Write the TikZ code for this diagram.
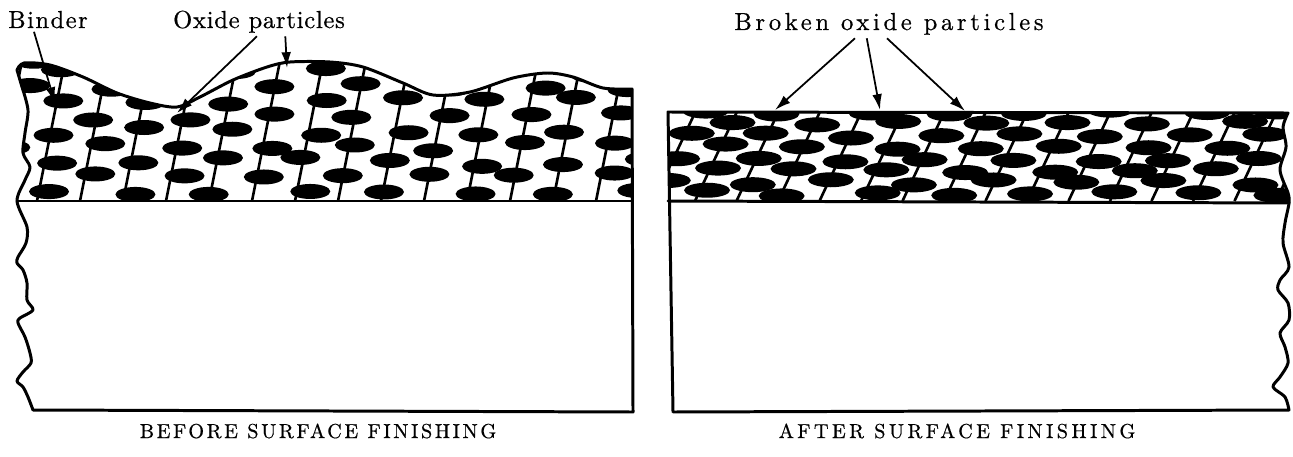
\documentclass[tikz,border=0pt]{standalone}
\usepackage{fontspec}
\usetikzlibrary{arrows.meta}

% tracked Latin Modern for the lettering
\newfontfamily\trackbinder[LetterSpace=6, FakeBold=0.6]{lmroman10-regular.otf}
\newfontfamily\trackoxide[LetterSpace=3, FakeBold=0.6]{lmroman10-regular.otf}
\newfontfamily\trackbroken[LetterSpace=15, FakeBold=0.6]{lmroman10-regular.otf}
\newfontfamily\trackbefore[LetterSpace=13, FakeBold=0.6]{lmroman10-regular.otf}
\newfontfamily\trackafter[LetterSpace=17, FakeBold=0.6]{lmroman10-regular.otf}

\tikzset{
  outline/.style={line width=1.7pt, line join=round, line cap=round},
  hatch/.style={line width=1.5pt},
  grain/.style={fill=black},
  pointer/.style={-{Latex[length=9pt,width=5.5pt]}, line width=1pt},
  tag/.style={inner sep=1pt, outer sep=1pt, font=#1\fontsize{14}{16}\selectfont},
  caption/.style={inner sep=0pt, font=#1\fontsize{11.5}{13}\selectfont},
}

\begin{document}
\begin{tikzpicture}[x=0.02cm, y=-0.02cm]
\useasboundingbox (0,0) rectangle (1293,456);
\pgfmathsetseed{42}

% left specimen, wavy coating on top of the base
\path[save path=\panelL] plot[smooth] coordinates {(17,70) (24,63) (50,65) (83,77) (117,93) (150,103) (177,107) (200,97) (233,80) (267,67) (290,62) (330,62) (363,67) (403,83) (433,95) (470,92) (513,78) (547,73) (573,77) (603,88) (632,89)}
  -- (633,412) -- (33,410)
  -- plot[smooth, tension=0.5] coordinates {(33,410) (28,397) (23,387) (17,381) (23,372) (31,363) (30,353) (25,337) (18,323) (20,318) (33,310) (27,300) (27,283) (23,270) (17,263) (18,257) (26,243) (27,227) (17,201) (25,180) (30,167) (23,153) (25,133) (28,110) (22,87)} -- cycle;

% right specimen, coating ground flat
\path[save path=\panelR] (668,112) -- (1288,113)
  -- plot[smooth, tension=0.5] coordinates {(1288,113) (1283,127) (1286,147) (1280,170) (1288,193) (1289,203) (1285,223) (1283,243) (1289,267) (1280,280) (1278,290) (1288,303) (1289,320) (1280,333) (1285,347) (1288,363) (1280,377) (1273,387) (1285,397) (1289,410)}
  -- (673,412) -- cycle;

\begin{scope}
  \clip (0,0) rectangle (1293,201);
  \clip[use path=\panelL];
  \foreach \i in {-1,...,14} {
    \draw[hatch] ({37+43*\i},201) -- ++(30,-150);
    \foreach \j in {0,...,4} {
      \pgfmathsetmacro\ey{192-30*\j-15*mod(\i+2,2)+5*rand}
      \pgfmathsetmacro\ex{37+43*\i+0.2*(201-\ey)+5+9*rand}
      \fill[grain] (\ex,\ey) ellipse [x radius=20, y radius=7.5];
    }
  }
\end{scope}

\begin{scope}
  \clip (0,0) rectangle (1293,201);
  \clip[use path=\panelR];
  \foreach \i in {-1,...,14} {
    \draw[hatch] ({695+41.5*\i},201) -- ++(47,-100);
    \foreach \j in {0,...,4} {
      \pgfmathsetmacro\ey{193-23*\j-11*mod(\i+2,2)+3*rand}
      \pgfmathsetmacro\ex{695+41.5*\i+0.47*(201-\ey)+6+9*rand}
      \fill[grain] (\ex,\ey) ellipse [x radius=23, y radius=7.5];
    }
  }
\end{scope}

\draw[outline, use path=\panelL];
\draw[outline] (17,201) -- (632,201);
\draw[outline, use path=\panelR];
\draw[outline] (668,201) -- (1289,203);

% labels and leaders
\node[tag=\trackbinder, anchor=base] (binder) at (48,28) {Binder};
\node[tag=\trackoxide, anchor=base] (oxide) at (259,28) {Oxide particles};
\node[tag=\trackbroken, anchor=base] (broken) at (889,30) {Broken oxide particles};

\coordinate (binderpt) at (55,103);
\coordinate (dip) at (177,113);
\coordinate (crest) at (287,68);
\coordinate (cutA) at (775,110);
\coordinate (cutB) at (880,110);
\coordinate (cutC) at (965,111);

\draw[pointer] (binder.-139) -- (binderpt);
\draw[pointer] (oxide.-98) -- (dip);
\draw[pointer] (oxide.-29) -- (crest);
\draw[pointer] (broken.-157) -- (cutA);
\draw[pointer] (broken.-147) -- (cutB);
\draw[pointer] (broken.-98) -- (cutC);

\node[caption=\trackbefore, anchor=base] (before) at (318,438) {BEFORE SURFACE FINISHING};
\node[caption=\trackafter, anchor=base] (after) at (957,438) {AFTER SURFACE FINISHING};
\end{tikzpicture}
\end{document}
